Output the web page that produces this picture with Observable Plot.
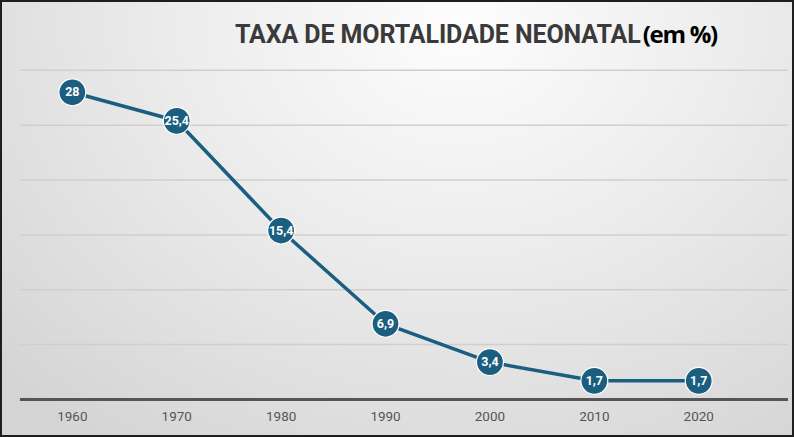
<!DOCTYPE html>
<html>
<head>
<meta charset="utf-8">
<script src="https://cdn.jsdelivr.net/npm/d3@7"></script>
<script src="https://cdn.jsdelivr.net/npm/@observablehq/plot@0.6"></script>
<style>
  html, body { margin: 0; padding: 0; background: #fff; }
  #frame {
    position: relative; width: 794px; height: 437px; box-sizing: border-box;
    border: 2px solid #1e1e1e; margin: 0;
    background: radial-gradient(ellipse 80% 120% at 58% 5%, #fdfdfd 0%, #ececec 45%, #d4d4d4 100%);
    overflow: hidden;
  }
  #title {
    position: absolute; left: 233px; top: 15px; white-space: nowrap;
    font-family: Roboto, "Open Sans", sans-serif; font-weight: 700; font-size: 25px;
    color: #3a3a3a; letter-spacing: -0.1px;
  }
  #title .unit { color: #000; font-family: "Open Sans", Roboto, sans-serif; font-weight: 700; font-size: 24px; margin-left: 2px; letter-spacing: -1.3px; }
  #chart { position: absolute; left: -2px; top: -2px; }
</style>
</head>
<body>
<div id="frame">
  <div id="chart"></div>
  <div id="title">TAXA DE MORTALIDADE NEONATAL<span class="unit">(em %)</span></div>
</div>
<script>
const years = [1960, 1970, 1980, 1990, 2000, 2010, 2020];
const values = [28, 25.4, 15.4, 6.9, 3.4, 1.7, 1.7];
const labels = ["28", "25,4", "15,4", "6,9", "3,4", "1,7", "1,7"];
const gridValues = [5, 10, 15, 20, 25, 30];

const data = years.map((y, i) => ({year: y, value: values[i], label: labels[i]}));
const color = "#1b5e80";

const chart = Plot.plot({
  width: 794,
  height: 437,
  marginLeft: 20,
  marginRight: 4,
  marginTop: 70,
  marginBottom: 37,
  style: {background: "transparent", fontFamily: "'Liberation Sans Narrow', Roboto, sans-serif", fontSize: "13.5px", color: "#555"},
  x: {domain: [1955.03, 2028.6], ticks: years, tickFormat: d => String(d), tickSize: 0, tickPadding: 12, label: null},
  y: {domain: [0, 30], axis: null},
  marks: [
    Plot.ruleY(gridValues, {stroke: "#cfcfcf", strokeWidth: 1.5}),
    Plot.ruleY([0], {stroke: "#555", strokeWidth: 3}),
    Plot.line(data, {x: "year", y: "value", stroke: color, strokeWidth: 3.5}),
    Plot.dot(data, {x: "year", y: "value", r: 13.5, fill: color, stroke: "white", strokeWidth: 1.2}),
    Plot.text(data, {x: "year", y: "value", text: "label", fill: "white", fontWeight: "bold", fontSize: 12.5, fontFamily: "Roboto, sans-serif"})
  ]
});
document.getElementById("chart").appendChild(chart);
</script>
</body>
</html>
